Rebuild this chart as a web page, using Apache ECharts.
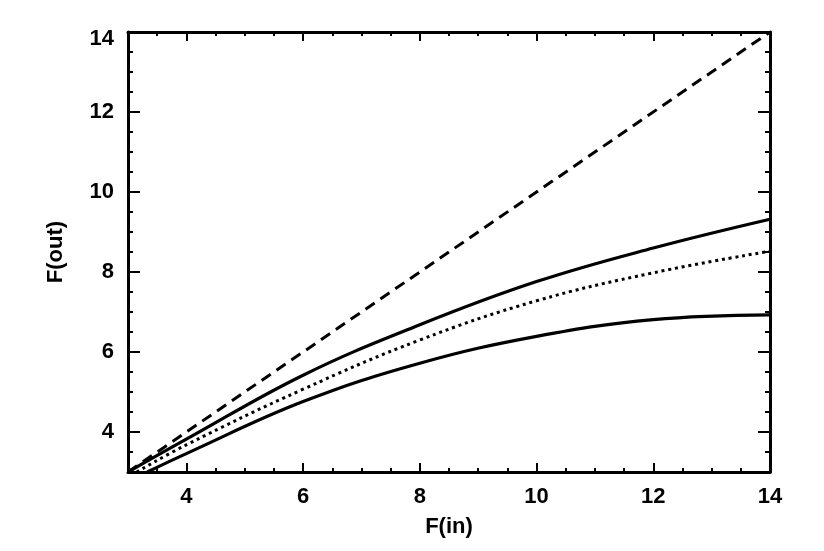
<!DOCTYPE html>
<html>
<head>
<meta charset="utf-8">
<script src="https://cdn.jsdelivr.net/npm/echarts@6/dist/echarts.min.js"></script>
<style>
  html, body { margin: 0; padding: 0; background: #fff; }
  #chart { width: 824px; height: 551px; }
</style>
</head>
<body>
<div id="chart"></div>
<script>
// ---- data ----
const xTickLabels = [4, 6, 8, 10, 12, 14];
const yTickLabels = [4, 6, 8, 10, 12, 14];

const dashedX = [3, 14];
const dashedY = [3, 14];

const upperX = [3, 4, 6, 8, 10, 12, 14];
const upperY = [3.0, 3.82, 5.42, 6.68, 7.76, 8.6, 9.32];

const dottedX = [3.15, 4, 6, 8, 10, 12, 14];
const dottedY = [3.0, 3.68, 5.07, 6.3, 7.28, 7.98, 8.52];

const lowerX = [3.33, 4, 6, 8, 10, 12, 14];
const lowerY = [3.0, 3.46, 4.76, 5.72, 6.39, 6.81, 6.93];

const xName = 'F(in)';
const yName = 'F(out)';

function pairs(xs, ys) { return xs.map((x, i) => [x, ys[i]]); }

const FONT = 'Liberation Sans, Arial, Helvetica, sans-serif';
const labelStyle = { color: '#000', fontSize: 22, fontFamily: FONT, fontWeight: 'bold' };

function xAx(position, major, showLabel) {
  return {
    type: 'value', position: position, min: 3, max: 14, interval: 0.5,
    splitLine: { show: false },
    axisLine: { show: !major, onZero: false, lineStyle: { color: '#000', width: 3 } },
    axisTick: major
      ? { show: true, inside: true, length: 9, customValues: xTickLabels, lineStyle: { color: '#000', width: 2 } }
      : { show: true, inside: true, length: 4, lineStyle: { color: '#000', width: 2 } },
    axisLabel: showLabel
      ? Object.assign({ show: true, margin: 14, customValues: xTickLabels }, labelStyle)
      : { show: false },
    name: showLabel ? xName : '',
    nameLocation: 'middle',
    nameGap: 44,
    nameTextStyle: labelStyle
  };
}
function yAx(position, major, showLabel) {
  return {
    type: 'value', position: position, min: 3, max: 14, interval: 0.5,
    splitLine: { show: false },
    axisLine: { show: !major, onZero: false, lineStyle: { color: '#000', width: 3 } },
    axisTick: major
      ? { show: true, inside: true, length: 12, customValues: yTickLabels, lineStyle: { color: '#000', width: 2 } }
      : { show: true, inside: true, length: 5, lineStyle: { color: '#000', width: 2 } },
    axisLabel: showLabel
      ? Object.assign({
          show: true, margin: 14, customValues: yTickLabels,
          formatter: v => (v === 14 ? '{t|14}' : String(v)),
          rich: { t: Object.assign({ padding: [14, 0, 0, 0] }, labelStyle) }
        }, labelStyle)
      : { show: false },
    name: showLabel ? yName : '',
    nameLocation: 'middle',
    nameGap: 61,
    nameRotate: 90,
    nameTextStyle: labelStyle
  };
}

const chart = echarts.init(document.getElementById('chart'), null, { renderer: 'canvas' });
chart.setOption({
  animation: false,
  backgroundColor: '#fff',
  grid: { left: 128, right: 54, top: 32, bottom: 79, containLabel: false },
  xAxis: [xAx('bottom', false, true), xAx('bottom', true, false), xAx('top', false, false), xAx('top', true, false)],
  yAxis: [yAx('left', false, true), yAx('left', true, false), yAx('right', false, false), yAx('right', true, false)],
  series: [
    { type: 'line', data: pairs(dashedX, dashedY), showSymbol: false,
      lineStyle: { color: '#000', width: 3, type: [11, 7] } },
    { type: 'line', data: pairs(upperX, upperY), showSymbol: false, smooth: 0.4,
      lineStyle: { color: '#000', width: 3.2 } },
    { type: 'line', data: pairs(dottedX, dottedY), showSymbol: false, smooth: 0.4,
      lineStyle: { color: '#000', width: 3, type: [3, 3.8] } },
    { type: 'line', data: pairs(lowerX, lowerY), showSymbol: false, smooth: 0.4,
      lineStyle: { color: '#000', width: 3.2 } }
  ]
});
</script>
</body>
</html>
